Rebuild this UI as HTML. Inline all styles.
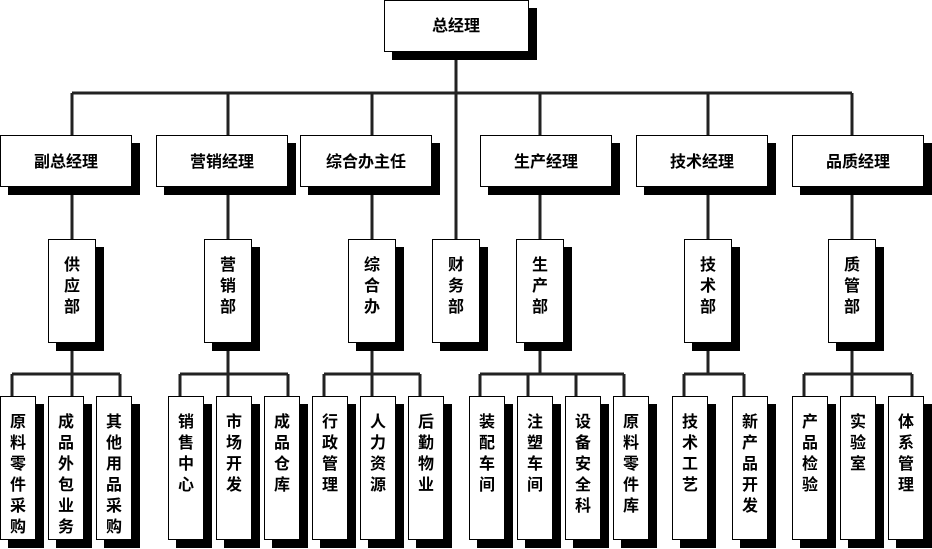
<!DOCTYPE html>
<html><head><meta charset="utf-8"><style>
html,body{margin:0;padding:0;background:#fff;}
svg{display:block;}
text{font-family:"Liberation Sans","Noto Sans CJK SC","WenQuanYi Zen Hei",sans-serif;font-size:16px;font-weight:bold;fill:#000;}
</style></head><body>
<svg width="932" height="549" viewBox="0 0 932 549" xmlns="http://www.w3.org/2000/svg">
<g stroke="#222" stroke-width="3" fill="none">
<!-- top -->
<path d="M456 60 V239 M72 93 H852 M72 93 V135 M228 93 V135 M372 93 V135 M540 93 V135 M708 93 V135 M852 93 V135"/>
<!-- level2 to level3 -->
<path d="M72 195 V239 M228 195 V239 M372 195 V239 M540 195 V239 M708 195 V239 M852 195 V239"/>
<!-- level3 to leaf -->
<path d="M72 351 V374 M12 374 H120 M12 374 V396 M72 374 V396 M120 374 V396"/>
<path d="M228 351 V374 M180 374 H288 M180 374 V396 M228 374 V396 M288 374 V396"/>
<path d="M372 351 V374 M324 374 H420 M324 374 V396 M372 374 V396 M420 374 V396"/>
<path d="M540 351 V374 M480 374 H624 M480 374 V396 M528 374 V396 M576 374 V396 M624 374 V396"/>
<path d="M708 351 V374 M684 374 H744 M684 374 V396 M744 374 V396"/>
<path d="M852 351 V374 M804 374 H912 M804 374 V396 M852 374 V396 M912 374 V396"/>
</g>
<g id="boxes">
<!-- top -->
<rect x="392" y="8" width="145" height="52" fill="#000"/><rect x="384.5" y="0.5" width="144" height="51" fill="#fff" stroke="#000"/>
<text x="456" y="31" text-anchor="middle">总经理</text>
<!-- level 2 -->
<g>
<rect x="8" y="143" width="132" height="52" fill="#000"/><rect x="0.5" y="135.5" width="131" height="51" fill="#fff" stroke="#000"/>
<rect x="164" y="143" width="132" height="52" fill="#000"/><rect x="156.5" y="135.5" width="131" height="51" fill="#fff" stroke="#000"/>
<rect x="308" y="143" width="132" height="52" fill="#000"/><rect x="300.5" y="135.5" width="131" height="51" fill="#fff" stroke="#000"/>
<rect x="488" y="143" width="132" height="52" fill="#000"/><rect x="480.5" y="135.5" width="131" height="51" fill="#fff" stroke="#000"/>
<rect x="644" y="143" width="132" height="52" fill="#000"/><rect x="636.5" y="135.5" width="131" height="51" fill="#fff" stroke="#000"/>
<rect x="800" y="143" width="132" height="52" fill="#000"/><rect x="792.5" y="135.5" width="131" height="51" fill="#fff" stroke="#000"/>
</g>
<g text-anchor="middle">
<text x="66" y="167">副总经理</text>
<text x="222" y="167">营销经理</text>
<text x="366" y="167">综合办主任</text>
<text x="546" y="167">生产经理</text>
<text x="702" y="167">技术经理</text>
<text x="858" y="167">品质经理</text>
</g>
<!-- level 3 -->
<g>
<rect x="56" y="247" width="48" height="104" fill="#000"/><rect x="48.5" y="239.5" width="47" height="103" fill="#fff" stroke="#000"/>
<rect x="212" y="247" width="48" height="104" fill="#000"/><rect x="204.5" y="239.5" width="47" height="103" fill="#fff" stroke="#000"/>
<rect x="356" y="247" width="48" height="104" fill="#000"/><rect x="348.5" y="239.5" width="47" height="103" fill="#fff" stroke="#000"/>
<rect x="440" y="247" width="48" height="104" fill="#000"/><rect x="432.5" y="239.5" width="47" height="103" fill="#fff" stroke="#000"/>
<rect x="524" y="247" width="48" height="104" fill="#000"/><rect x="516.5" y="239.5" width="47" height="103" fill="#fff" stroke="#000"/>
<rect x="692" y="247" width="48" height="104" fill="#000"/><rect x="684.5" y="239.5" width="47" height="103" fill="#fff" stroke="#000"/>
<rect x="836" y="247" width="48" height="104" fill="#000"/><rect x="828.5" y="239.5" width="47" height="103" fill="#fff" stroke="#000"/>
</g>
<g text-anchor="middle">
<text x="72" y="270">供</text><text x="72" y="291">应</text><text x="72" y="312">部</text>
<text x="228" y="270">营</text><text x="228" y="291">销</text><text x="228" y="312">部</text>
<text x="372" y="270">综</text><text x="372" y="291">合</text><text x="372" y="312">办</text>
<text x="456" y="270">财</text><text x="456" y="291">务</text><text x="456" y="312">部</text>
<text x="540" y="270">生</text><text x="540" y="291">产</text><text x="540" y="312">部</text>
<text x="708" y="270">技</text><text x="708" y="291">术</text><text x="708" y="312">部</text>
<text x="852" y="270">质</text><text x="852" y="291">管</text><text x="852" y="312">部</text>
</g>
<!-- leaves -->
<g>
<rect x="8" y="404" width="36" height="144" fill="#000"/><rect x="0.5" y="396.5" width="35" height="143" fill="#fff" stroke="#000"/>
<rect x="56" y="404" width="36" height="144" fill="#000"/><rect x="48.5" y="396.5" width="35" height="143" fill="#fff" stroke="#000"/>
<rect x="104" y="404" width="36" height="144" fill="#000"/><rect x="96.5" y="396.5" width="35" height="143" fill="#fff" stroke="#000"/>
<rect x="176" y="404" width="36" height="144" fill="#000"/><rect x="168.5" y="396.5" width="35" height="143" fill="#fff" stroke="#000"/>
<rect x="224" y="404" width="36" height="144" fill="#000"/><rect x="216.5" y="396.5" width="35" height="143" fill="#fff" stroke="#000"/>
<rect x="272" y="404" width="36" height="144" fill="#000"/><rect x="264.5" y="396.5" width="35" height="143" fill="#fff" stroke="#000"/>
<rect x="320" y="404" width="36" height="144" fill="#000"/><rect x="312.5" y="396.5" width="35" height="143" fill="#fff" stroke="#000"/>
<rect x="368" y="404" width="36" height="144" fill="#000"/><rect x="360.5" y="396.5" width="35" height="143" fill="#fff" stroke="#000"/>
<rect x="416" y="404" width="36" height="144" fill="#000"/><rect x="408.5" y="396.5" width="35" height="143" fill="#fff" stroke="#000"/>
<rect x="477" y="404" width="36" height="144" fill="#000"/><rect x="469.5" y="396.5" width="35" height="143" fill="#fff" stroke="#000"/>
<rect x="525" y="404" width="36" height="144" fill="#000"/><rect x="517.5" y="396.5" width="35" height="143" fill="#fff" stroke="#000"/>
<rect x="573" y="404" width="36" height="144" fill="#000"/><rect x="565.5" y="396.5" width="35" height="143" fill="#fff" stroke="#000"/>
<rect x="621" y="404" width="36" height="144" fill="#000"/><rect x="613.5" y="396.5" width="35" height="143" fill="#fff" stroke="#000"/>
<rect x="680" y="404" width="36" height="144" fill="#000"/><rect x="672.5" y="396.5" width="35" height="143" fill="#fff" stroke="#000"/>
<rect x="740" y="404" width="36" height="144" fill="#000"/><rect x="732.5" y="396.5" width="35" height="143" fill="#fff" stroke="#000"/>
<rect x="800" y="404" width="36" height="144" fill="#000"/><rect x="792.5" y="396.5" width="35" height="143" fill="#fff" stroke="#000"/>
<rect x="848" y="404" width="36" height="144" fill="#000"/><rect x="840.5" y="396.5" width="35" height="143" fill="#fff" stroke="#000"/>
<rect x="896" y="404" width="36" height="144" fill="#000"/><rect x="888.5" y="396.5" width="35" height="143" fill="#fff" stroke="#000"/>
</g>
<g text-anchor="middle" font-size="17">
<text x="18" y="427">原</text><text x="18" y="448">料</text><text x="18" y="469">零</text><text x="18" y="490">件</text><text x="18" y="511">采</text><text x="18" y="532">购</text>
<text x="66" y="427">成</text><text x="66" y="448">品</text><text x="66" y="469">外</text><text x="66" y="490">包</text><text x="66" y="511">业</text><text x="66" y="532">务</text>
<text x="114" y="427">其</text><text x="114" y="448">他</text><text x="114" y="469">用</text><text x="114" y="490">品</text><text x="114" y="511">采</text><text x="114" y="532">购</text>
<text x="186" y="427">销</text><text x="186" y="448">售</text><text x="186" y="469">中</text><text x="186" y="490">心</text>
<text x="234" y="427">市</text><text x="234" y="448">场</text><text x="234" y="469">开</text><text x="234" y="490">发</text>
<text x="282" y="427">成</text><text x="282" y="448">品</text><text x="282" y="469">仓</text><text x="282" y="490">库</text>
<text x="330" y="427">行</text><text x="330" y="448">政</text><text x="330" y="469">管</text><text x="330" y="490">理</text>
<text x="378" y="427">人</text><text x="378" y="448">力</text><text x="378" y="469">资</text><text x="378" y="490">源</text>
<text x="426" y="427">后</text><text x="426" y="448">勤</text><text x="426" y="469">物</text><text x="426" y="490">业</text>
<text x="487" y="427">装</text><text x="487" y="448">配</text><text x="487" y="469">车</text><text x="487" y="490">间</text>
<text x="535" y="427">注</text><text x="535" y="448">塑</text><text x="535" y="469">车</text><text x="535" y="490">间</text>
<text x="583" y="427">设</text><text x="583" y="448">备</text><text x="583" y="469">安</text><text x="583" y="490">全</text><text x="583" y="511">科</text>
<text x="631" y="427">原</text><text x="631" y="448">料</text><text x="631" y="469">零</text><text x="631" y="490">件</text><text x="631" y="511">库</text>
<text x="690" y="427">技</text><text x="690" y="448">术</text><text x="690" y="469">工</text><text x="690" y="490">艺</text>
<text x="750" y="427">新</text><text x="750" y="448">产</text><text x="750" y="469">品</text><text x="750" y="490">开</text><text x="750" y="511">发</text>
<text x="810" y="427">产</text><text x="810" y="448">品</text><text x="810" y="469">检</text><text x="810" y="490">验</text>
<text x="858" y="427">实</text><text x="858" y="448">验</text><text x="858" y="469">室</text>
<text x="906" y="427">体</text><text x="906" y="448">系</text><text x="906" y="469">管</text><text x="906" y="490">理</text>
</g>
</g>
</svg>
</body></html>
